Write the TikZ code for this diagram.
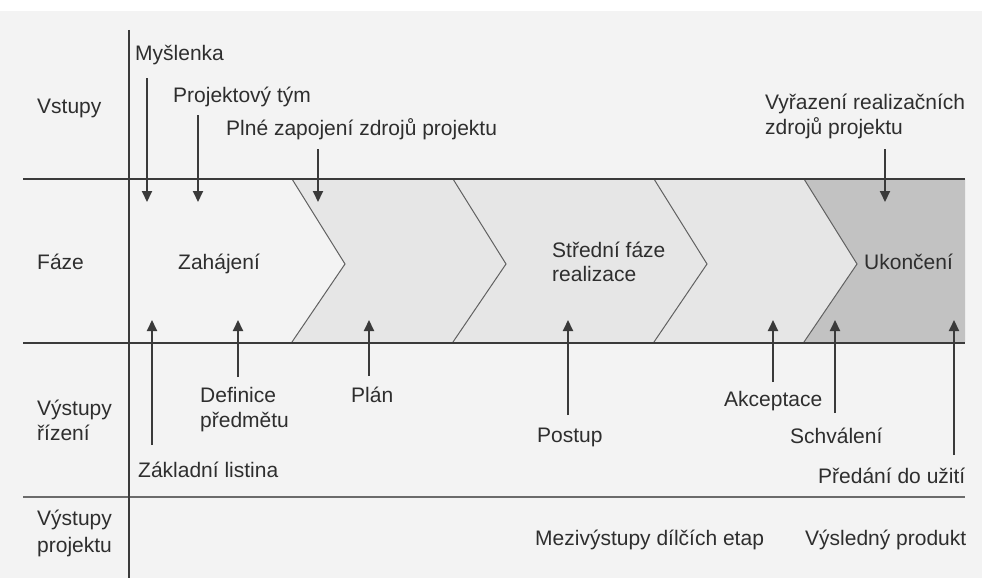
\documentclass[tikz,border=0pt]{standalone}
\usepackage{fontspec}
\setmainfont{Liberation Sans}
\usetikzlibrary{arrows.meta}
\definecolor{bg}{HTML}{F3F3F3}
\definecolor{txt}{HTML}{2E2E2E}
\definecolor{ln}{HTML}{3A3A3A}
\definecolor{band}{HTML}{E6E6E6}
\definecolor{dark}{HTML}{C2C2C2}
\begin{document}
\begin{tikzpicture}[x=1pt,y=-1pt,
  lbl/.style={anchor=base west, text=txt, font=\fontsize{21}{25}\selectfont, inner sep=0pt},
  arr/.style={line width=2pt, draw=ln, -{Triangle[length=11pt,width=10pt]}},
  rule/.style={line width=2pt, draw=ln},
  chev/.style={line width=1pt, draw=ln!80}]
\useasboundingbox (0,0) rectangle (982,578);
\fill[bg] (0,11) rectangle (982,578);
% phase bands
\fill[band] (292,179) -- (804,179) -- (857,264) -- (804,342) -- (292,342) -- (345,264) -- cycle;
\fill[dark] (804,179) -- (965,179) -- (965,342) -- (804,342) -- (857,264) -- cycle;
\foreach \c in {292,453,654,804}
  \draw[chev] (\c,179) -- (\c+53,264) -- (\c,342);
% grid
\draw[rule] (23,179) -- (965,179);
\draw[rule] (23,343) -- (965,343);
\draw[line width=1.2pt, draw=ln!75] (23,497) -- (965,497);
\draw[rule] (129,30) -- (129,578);
% row labels
\node[lbl] (vst) at (37,113) {Vstupy};
\node[lbl] (faze) at (37,269) {Fáze};
\node[lbl] (vr1) at (37,415) {Výstupy};
\node[lbl] (vr2) at (37,440) {řízení};
\node[lbl] (vp1) at (37,525) {Výstupy};
\node[lbl] (vp2) at (37,552) {projektu};
% inputs
\node[lbl] (mys) at (135,60) {Myšlenka};
\node[lbl] (tym) at (173,102) {Projektový tým};
\node[lbl] (pln) at (226,135) {Plné zapojení zdrojů projektu};
\node[lbl] (vyr1) at (765,109) {Vyřazení realizačních};
\node[lbl] (vyr2) at (765,134) {zdrojů projektu};
% phases
\node[lbl] (zah) at (178,269) {Zahájení};
\node[lbl] (str1) at (552,257) {Střední fáze};
\node[lbl] (str2) at (552,281) {realizace};
\node[lbl] (uko) at (864,269) {Ukončení};
% management outputs
\node[lbl] (def1) at (200,402) {Definice};
\node[lbl] (def2) at (200,427) {předmětu};
\node[lbl] (plan) at (351,402) {Plán};
\node[lbl] (zak) at (138,477) {Základní listina};
\node[lbl] (post) at (537,442) {Postup};
\node[lbl] (akc) at (724,406) {Akceptace};
\node[lbl] (sch) at (790,443) {Schválení};
\node[lbl] (pre) at (818,483) {Předání do užití};
% project outputs
\node[lbl] (mez) at (535,545) {Mezivýstupy dílčích etap};
\node[lbl] (vys) at (805,545) {Výsledný produkt};
% arrow coordinates
\coordinate (mysS) at (147,78);  \coordinate (mysE) at (147,202);
\coordinate (tymS) at (198,115); \coordinate (tymE) at (198,202);
\coordinate (plnS) at (318,149); \coordinate (plnE) at (318,202);
\coordinate (vyrS) at (885,149); \coordinate (vyrE) at (885,202);
\coordinate (zakS) at (152,445); \coordinate (zakE) at (152,320);
\coordinate (defS) at (238,377); \coordinate (defE) at (238,320);
\coordinate (plaS) at (369,376); \coordinate (plaE) at (369,320);
\coordinate (posS) at (568,415); \coordinate (posE) at (568,320);
\coordinate (akcS) at (773,382); \coordinate (akcE) at (773,320);
\coordinate (schS) at (835,413); \coordinate (schE) at (835,320);
\coordinate (preS) at (954,455); \coordinate (preE) at (954,320);
\foreach \a in {mys,tym,pln,vyr,zak,def,pla,pos,akc,sch,pre}
  \draw[arr] (\a S) -- (\a E);
\end{tikzpicture}
\end{document}
